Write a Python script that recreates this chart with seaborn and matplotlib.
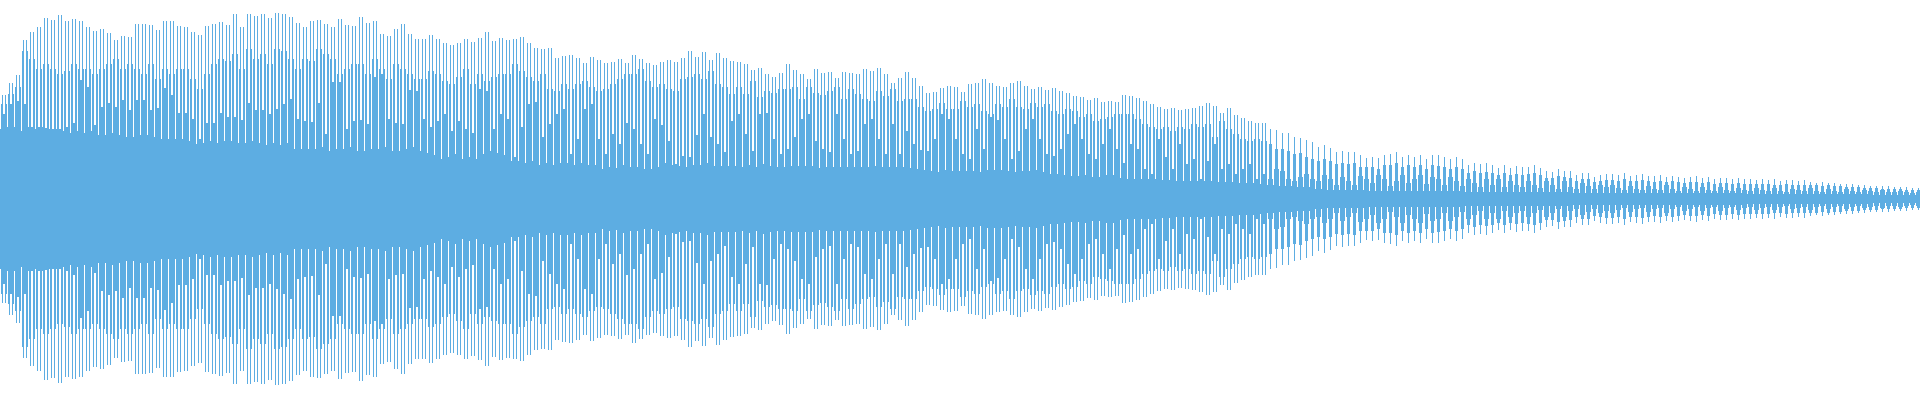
import numpy as np
import pandas as pd
import matplotlib
matplotlib.use("Agg")
import matplotlib.pyplot as plt
import seaborn as sns

# Amplitudes, one value per pitch cycle (pixels from the centre line)
tall_seven = [
 104,116,124,159,167,172,181,179,184,178,180,178,172,168,170,166,159,163,162,175,175,174,169,178,178,173,172,167,164,173,175,177,174,185,172,185,183,185,181,186,185,182,176,
 172,178,179,175,172,180,174,173,182,176,178,165,163,170,175,165,160,160,164,160,156,154,156,160,157,161,167,158,161,159,160,
 162,156,151,150,151,141,143,144,141,136,142,139,136,137,140,136,144,140,136,134,137,139,137,141,148,142,147,139,146,
 141,138,137,135,129,131,125,122,126,135,129,125,120,130,126,127,121,127,126,125,130,128,131,125,116,121,127,121,113,
 106,107,111,113,112,107,115,116,120,116,113,112,116,118,113,110,112,109,111,108,106,103,102,99,101,97,98,97,104,
 103,101,98,95,92,90,91,89,90,91,93,96,93,86,91,84,81,78,76,76,74]
shoulder_seven = [
 95,105,112,148,140,130,135,130,125,128,135,130,130,125,130,135,140,130,135,130,125,135,120,130,125,130,130,120,110,125,135,140,138,145,130,150,140,145,135,150,148,140,130,
 140,138,150,145,140,125,130,135,135,125,140,130,120,135,130,125,120,120,128,125,118,115,122,130,115,125,118,122,125,125,
 135,128,122,118,125,110,108,115,110,115,118,112,108,110,115,120,125,125,130,118,112,115,110,108,120,122,125,120,128,
 115,112,105,112,105,118,102,108,106,110,110,112,100,112,106,104,108,112,100,110,105,100,98,108,103,110,98,100,100,
 92,88,90,96,90,90,98,92,95,88,85,95,92,100,92,90,96,92,95,88,85,90,88,82,85,78,80,82,85,
 85,85,80,75,72,70,72,68,72,70,75,72,75,62,78,70,65,60,58,60,58]
low_seven = [
 85,95,98,95,72,72,71,70,70,72,76,119,112,74,92,96,92,99,89,99,99,89,91,111,104,86,86,80,60,76,76,86,82,82,79,96,89,89,85,90,95,100,80,
 78,77,96,65,117,117,70,78,79,75,122,125,80,76,75,109,108,80,72,78,85,68,78,70,66,110,108,70,85,80,
 42,72,95,97,62,75,85,90,45,60,90,95,60,45,65,55,76,70,55,45,80,74,58,35,43,42,64,85,62,
 55,47,78,85,65,48,85,86,60,45,50,62,80,85,58,50,47,85,60,45,48,75,80,60,45,75,45,68,55,
 49,48,60,85,80,60,45,40,70,50,82,79,60,40,48,70,80,60,45,43,50,65,75,60,45,40,55,70,50,
 36,55,50,30,25,60,42,30,55,35,40,20,38,55,30,35,25,30,35,20,25]
slit_seven = [
 70,72,72,68,72,70,72,70,70,68,66,68,66,68,64,64,66,64,62,62,64,64,62,60,60,60,60,58,55,56,58,56,58,58,56,56,58,56,54,56,54,56,50,
 50,50,50,52,48,50,50,52,48,48,50,50,52,48,48,50,52,48,46,44,40,42,45,40,42,40,45,48,46,44,
 38,38,36,38,34,36,34,36,36,34,36,34,34,30,32,31,34,32,32,30,30,32,36,34,33,32,34,34,36,
 33,33,33,33,32,34,32,35,33,32,32,33,33,33,33,31,32,32,32,32,32,32,32,33,32,32,32,32,31,
 30,29,28,27,29,28,28,28,28,27,29,29,29,28,27,28,28,29,27,25,25,24,23,23,24,22,22,24,24,
 21,20,20,20,20,20,19,19,18,18,18,18,18,18,17,17,17,16,16,16,15]

tall_six = [
 70,69,66,66,62,61,59,57,
 52,54,51,47,48,47,47,44,41,42,41,44,45,47,42,44,42,44,40,44,44,42,40,42,40,34,36,35,36,34,31,34,31,33,32,32,34,31,28,27,30,28,28,24,26,26,22,24,25,
 25,24,26,23,24,25,23,23,24,22,23,22,21,22,23,21,22,20,21,21,20,21,20,20,19,20,19,20,18,19,19,18,19,
 17,16,17,16,16,15,15,15,14,14,13,13,13,13,12,12,12,11,11,10]
shoulder_six = [
 55,50,50,48,45,46,42,40,
 38,40,38,35,36,35,36,32,32,32,30,34,34,36,32,34,32,34,30,34,33,32,30,32,30,26,28,26,27,26,24,26,24,25,24,25,26,24,21,21,23,22,21,18,20,20,17,18,19,
 19,18,20,18,18,19,18,17,18,17,18,17,16,17,17,16,17,15,16,16,15,16,15,15,15,15,15,14,14,15,14,14,14,
 14,14,13,14,13,13,12,12,12,11,11,11,10,10,10,10,9,9,9,8]
low_six = [
 20,30,28,20,18,22,25,20,
 18,24,20,14,22,18,14,23,20,16,24,20,13,18,24,16,20,24,15,22,20,14,22,18,13,20,16,12,20,14,20,12,18,14,12,18,14,11,18,14,10,18,12,10,16,13,10,14,12,
 14,11,9,13,10,9,13,10,9,14,10,8,12,10,8,12,9,8,12,9,8,11,9,8,11,9,8,11,8,7,10,9,8,
 11,8,7,10,8,7,10,8,7,9,8,7,9,7,7,8,7,6,7,6]
slit_six = [
 14,14,13,13,13,12,12,12,
 10,10,9,9,9,9,9,9,9,8,8,8,8,8,8,8,8,8,8,8,8,8,8,8,8,7,7,7,7,7,7,7,7,7,7,7,7,7,7,7,7,7,7,6,6,6,6,6,6,
 6,6,6,6,6,6,6,6,6,6,6,6,6,6,6,6,6,6,6,6,6,6,6,5,5,5,5,5,5,5,5,5,5,
 5,5,5,5,5,5,5,5,5,5,5,4,4,4,4,4,4,4,4,4]

BLUE = "#5DADE2"

amp = []
for t, s, l, c in zip(tall_seven, shoulder_seven, low_seven, slit_seven):
    amp += [c, s, t, l, l, t, s]
for t, s, l, c in zip(tall_six, shoulder_six, low_six, slit_six):
    amp += [c, l, s, t, s, l]
amp = np.array(amp[:1920], dtype=float)
frame = pd.DataFrame({"col": np.arange(len(amp)), "up": amp, "down": -amp})

sns.set_theme(style="white")
fig = plt.figure(figsize=(19.2, 4.0), dpi=100, facecolor="white")
ax = fig.add_axes([0, 0, 1, 1])
for column in ("up", "down"):
    sns.barplot(data=frame, x="col", y=column, native_scale=True, width=1.0,
                color=BLUE, saturation=1, linewidth=0, antialiased=False,
                errorbar=None, ax=ax)
ax.set_xlim(-0.5, 1919.5)
ax.set_ylim(-201, 199)
ax.axis("off")
fig.savefig("out.png", dpi=100, facecolor="white")
